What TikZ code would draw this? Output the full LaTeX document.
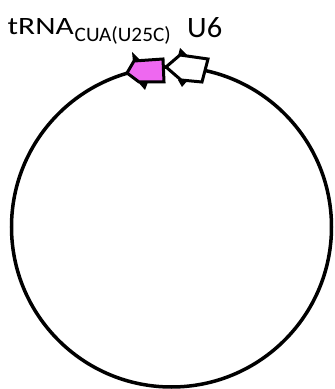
\documentclass[tikz,border=0pt]{standalone}
\usepackage{fontspec}
\setmainfont{Carlito}
\definecolor{trnapink}{RGB}{238,104,240}
\begin{document}
\begin{tikzpicture}[x=1pt,y=1pt,
  outline/.style={line width=3pt, line join=miter, draw=black},
  lbl/.style={inner sep=0pt, anchor=base west}]
\useasboundingbox (0,0) rectangle (335,389);
\begin{scope}[yshift=389pt, yscale=-1]
  % plasmid circle
  \node[circle, draw, line width=3.5pt, minimum size=320pt, inner sep=0pt] (plasmid) at (171.5,227) {};
  % tRNA arrow (magenta), pointing left
  \fill (133,62) -- (132,52) -- (141,61) -- cycle;
  \fill (138,82) -- (145,90) -- (148,82) -- cycle;
  \draw[outline, fill=trnapink] (127,73) -- (134,61) -- (163,59) -- (164,82) -- (139,82) -- cycle;
  % U6 arrow (white), pointing left
  \fill (178,56) -- (180,48) -- (188,56) -- cycle;
  \fill (178,80) -- (182,87) -- (188,80) -- cycle;
  \draw[outline, fill=white] (166,67) -- (180,55) -- (208,59) -- (202,82) -- (181,80) -- cycle;
\end{scope}
\node[lbl] (trna) at (7.5,354) {\resizebox{66pt}{16pt}{\fontsize{24}{24}\selectfont tRNA}};
\node[lbl] (trnasub) at (74.5,347) {\resizebox{96pt}{15pt}{\fontsize{20}{20}\selectfont CUA(U25C)}};
\node[lbl] (u6) at (187,351) {\resizebox{35pt}{20pt}{\fontsize{29}{29}\selectfont U6}};
\end{tikzpicture}
\end{document}
